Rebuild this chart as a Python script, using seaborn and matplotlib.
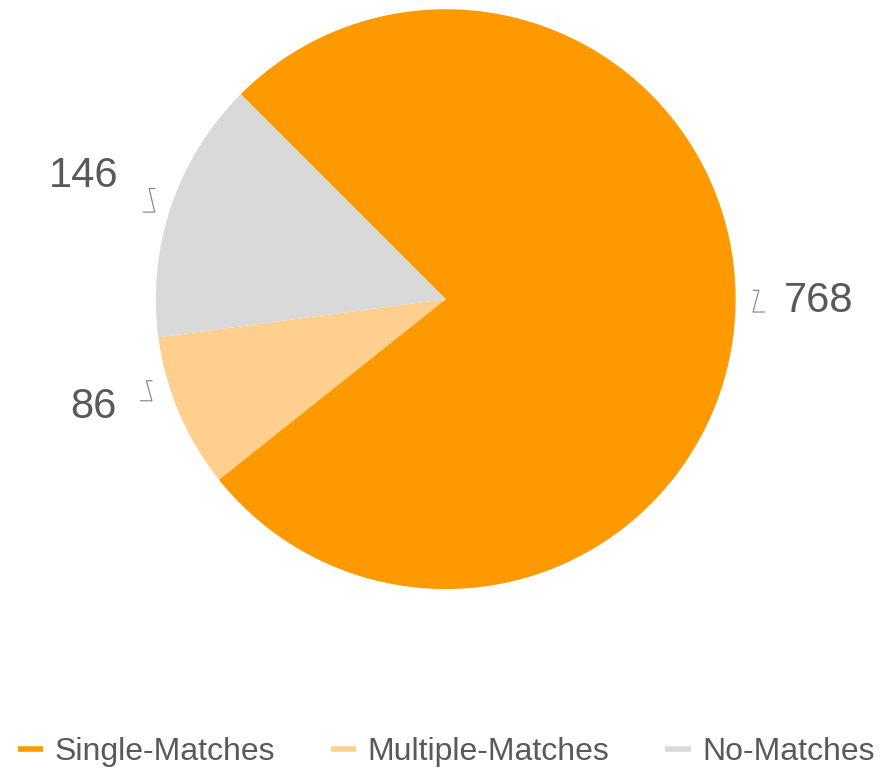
import numpy as np
import matplotlib
matplotlib.use("Agg")
import matplotlib.pyplot as plt
import seaborn as sns
from matplotlib.lines import Line2D

# data
categories = ["Single-Matches", "Multiple-Matches", "No-Matches"]
counts = [768, 86, 146]
colors = ["#FF9900", "#FFCF8E", "#D9D9D9"]
text_color = "#595959"

sns.set_style("white")
plt.rcParams['font.family'] = ['Liberation Sans', 'DejaVu Sans']

fig = plt.figure(figsize=(8.8, 7.7), dpi=100)
# pie area: centre ~ (446, 299) px, radius ~290 px
ax = fig.add_axes([0.177, 0.235, 0.659, 0.753])
wedges, _ = ax.pie(counts, colors=colors, startangle=135, counterclock=False,
                   radius=1.0, wedgeprops=dict(linewidth=0))
ax.set_xlim(-1, 1)
ax.set_ylim(-1, 1)
ax.set_aspect("equal")
ax.axis("off")

# value labels with small leader ticks
label_r = [1.285, 1.27, 1.32]
nudge = [3.0, -6.0, 0.0]  # degrees shift of label from wedge mid-angle
for w, val, lr, dn in zip(wedges, counts, label_r, nudge):
    mid = (w.theta1 + w.theta2) / 2.0
    a = np.deg2rad(mid + dn)
    x, y = lr * np.cos(a), lr * np.sin(a)
    ax.text(x, y, f"{val}", ha="center", va="center", fontsize=30,
            color=text_color, clip_on=False)
    side = np.sign(np.cos(a))
    p0 = (1.06 * np.cos(a), 1.06 * np.sin(a) - 0.04)
    p1 = (1.08 * np.cos(a), 1.08 * np.sin(a) + 0.035)
    ax.plot([p1[0] - side * 0.02, p1[0], p0[0], p0[0] + side * 0.04],
            [p1[1], p1[1], p0[1], p0[1]],
            color="#7F7F7F", lw=0.8, clip_on=False)

handles = [Line2D([0], [0], color=c, lw=4, solid_capstyle="butt") for c in colors]
fig.legend(handles, categories, loc="center", bbox_to_anchor=(0.507, 0.023),
           ncol=3, frameon=False, fontsize=23, handlelength=0.8,
           handletextpad=0.35, columnspacing=1.75, labelcolor=text_color)

fig.savefig("out.png", dpi=100)
